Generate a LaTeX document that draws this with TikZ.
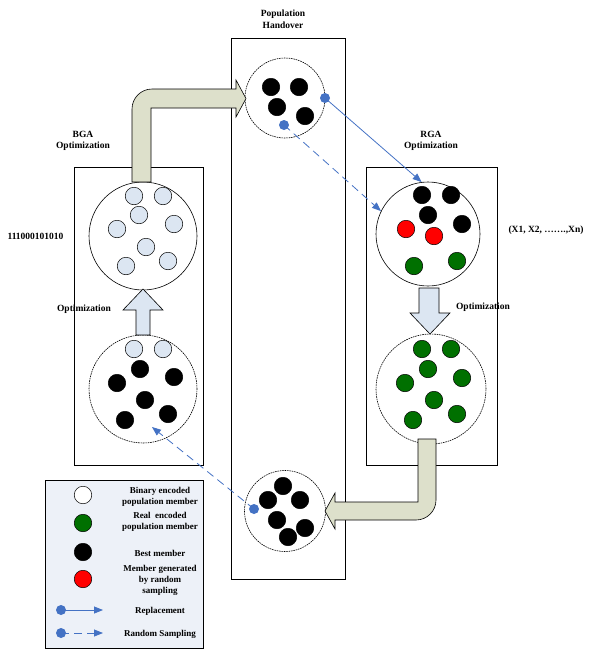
\documentclass[tikz,border=0pt]{standalone}
\usepackage{fontspec}
\setmainfont{Liberation Serif}
\usetikzlibrary{arrows.meta}

\definecolor{lineblue}{RGB}{68,114,196}
\definecolor{memgreen}{RGB}{0,112,0}
\definecolor{memlight}{RGB}{220,230,242}
\definecolor{armolive}{RGB}{221,224,203}
\definecolor{legfill}{RGB}{237,241,248}

\begin{document}
\begin{tikzpicture}[x=1pt,y=-1pt,
 every node/.style={font=\fontsize{9.5}{11.5}\selectfont\bfseries},
 lbl/.style={align=center},
 legtxt/.style={align=center,font=\fontsize{9}{11}\selectfont\bfseries},
 panel/.style={draw,line width=0.6pt},
 pool/.style={circle,draw,fill=white,line width=0.6pt,inner sep=0pt},
 dpool/.style={pool,dash pattern=on 1.6pt off 0.8pt},
 mem/.style={circle,draw,inner sep=0pt,minimum size=17.5,line width=0.5pt},
 bin/.style={mem,fill=memlight},
 real/.style={mem,fill=memgreen},
 best/.style={mem,fill=black},
 rnd/.style={mem,fill=red},
 hook/.style={circle,fill=lineblue,inner sep=0pt,minimum size=10},
 repl/.style={draw=lineblue,line width=0.8pt,-{Triangle[length=9pt,width=7pt]}},
 rsamp/.style={repl,dash pattern=on 8pt off 5pt},
 bigarrow/.style={draw,fill=armolive,line width=0.6pt},
 optarrow/.style={draw,fill=memlight,line width=0.6pt}]
 \useasboundingbox (0,0) rectangle (589,649);
 \draw[panel] (74,167) rectangle (203,465);
 \draw[panel] (231,38) rectangle (345,579);
 \draw[panel] (366,167) rectangle (497,465);
 \draw[panel,fill=legfill] (45,480) rectangle (203,648.5);

 \node[lbl] (hoTitle) at (283,19) {Population\\Handover};
 \node[lbl] (bgaTitle) at (83,141) {BGA\\Optimization};
 \node[lbl] (rgaTitle) at (431,141) {RGA\\Optimization};
 \node[anchor=west] (bitStr) at (4,236) {111000101010};
 \node (realVec) at (546,230) {(X1, X2, …….,Xn)};
 \node (bgaOpt) at (84,309) {Optimization};
 \node (rgaOpt) at (483,307) {Optimization};

 \node[dpool,minimum size=80] (hoTop) at (285,98) {};
 \node[pool,minimum size=108] (bgaTop) at (143,236) {};
 \node[dpool,minimum size=108] (bgaBot) at (143,389) {};
 \node[pool,minimum size=104] (rgaTop) at (428,234) {};
 \node[dpool,minimum size=110] (rgaBot) at (431,389) {};
 \node[dpool,minimum size=81] (hoBot) at (285,511) {};

 \node[best] (ht1) at (271,87) {};
 \node[best] (ht2) at (299,87) {};
 \node[best] (ht3) at (277,107) {};
 \node[best] (ht4) at (305,116) {};

 \node[bin] (bt1) at (134,196) {};
 \node[bin] (bt2) at (163,196) {};
 \node[bin] (bt3) at (139,215) {};
 \node[bin] (bt4) at (174,224) {};
 \node[bin] (bt5) at (117,229) {};
 \node[bin] (bt6) at (146,247) {};
 \node[bin] (bt7) at (126,266) {};
 \node[bin] (bt8) at (168,261) {};

 \node[bin] (bb1) at (134,349) {};
 \node[bin] (bb2) at (163,349) {};
 \node[best] (bb3) at (140,369) {};
 \node[best] (bb4) at (174,377) {};
 \node[best] (bb5) at (117,383) {};
 \node[best] (bb6) at (145,400) {};
 \node[best] (bb7) at (125,420) {};
 \node[best] (bb8) at (168,414) {};

 \node[best] (rt1) at (422,195) {};
 \node[best] (rt2) at (451,195) {};
 \node[best] (rt3) at (428,215) {};
 \node[best] (rt4) at (462,224) {};
 \node[rnd] (rt5) at (406,229) {};
 \node[rnd] (rt6) at (434,236) {};
 \node[real] (rt7) at (414,266) {};
 \node[real] (rt8) at (457,261) {};

 \node[real] (rb1) at (422,349) {};
 \node[real] (rb2) at (451,349) {};
 \node[real] (rb3) at (428,369) {};
 \node[real] (rb4) at (405,383) {};
 \node[real] (rb5) at (462,378) {};
 \node[real] (rb6) at (434,400) {};
 \node[real] (rb7) at (413,420) {};
 \node[real] (rb8) at (457,414) {};

 \node[best] (hb1) at (283,486) {};
 \node[best] (hb2) at (268,500) {};
 \node[best] (hb3) at (300,500) {};
 \node[best] (hb4) at (277,520) {};
 \node[best] (hb5) at (305,528) {};
 \node[best] (hb6) at (288,537) {};

 \draw[bigarrow] (132,182) -- (132,109) arc[start angle=180,end angle=270,radius=20]
  -- (236,89) -- (236,80) -- (246,98.5) -- (236,117) -- (236,108) -- (151,108) -- (151,182) -- cycle;
 \draw[bigarrow] (418,439) -- (418,502) -- (335,502) -- (335,493) -- (325,511) -- (335,529)
  -- (335,520) -- (416,520) arc[start angle=90,end angle=0,radius=20] -- (436,439) -- cycle;
 \draw[optarrow] (136,335) -- (136,310) -- (123,310) -- (143,289) -- (163,310) -- (150,310) -- (150,335) -- cycle;
 \draw[optarrow] (419,288) -- (419,313) -- (410,313) -- (430,334) -- (450,313) -- (439,313) -- (439,288) -- cycle;

 \node[hook] (hkRepl) at (325,98) {};
 \node[hook] (hkSamp) at (284,125) {};
 \node[hook] (hkBack) at (254,509) {};
 \coordinate (bgaIn) at (152,427);
 \draw[repl] (hkRepl.center) -- (rgaTop.97);
 \draw[rsamp] (hkSamp.center) -- (rgaTop.154);
 \draw[rsamp] (hkBack.center) -- (bgaIn);

 \node[mem,fill=white] (lgBin) at (83,495) {};
 \node[real] (lgReal) at (83,523) {};
 \node[best] (lgBest) at (83,552) {};
 \node[rnd] (lgRnd) at (83,579) {};
 \node[legtxt] (txBin) at (160,497) {Binary encoded\\population member};
 \node[legtxt] (txReal) at (160,522) {Real\ \ encoded\\population member};
 \node[legtxt] (txBest) at (160,553) {Best member};
 \node[legtxt] (txRnd) at (160,580) {Member generated\\by random\\sampling};
 \node[hook] (lgHkR) at (61,610) {};
 \coordinate (lgEndR) at (103,610);
 \draw[repl] (lgHkR.center) -- (lgEndR);
 \node[legtxt] (txRepl) at (160,611) {Replacement};
 \node[hook] (lgHkS) at (61,633) {};
 \coordinate (lgEndS) at (103,633);
 \draw[rsamp] (lgHkS.center) -- (lgEndS);
 \node[legtxt] (txSamp) at (160,634) {Random Sampling};
\end{tikzpicture}
\end{document}
